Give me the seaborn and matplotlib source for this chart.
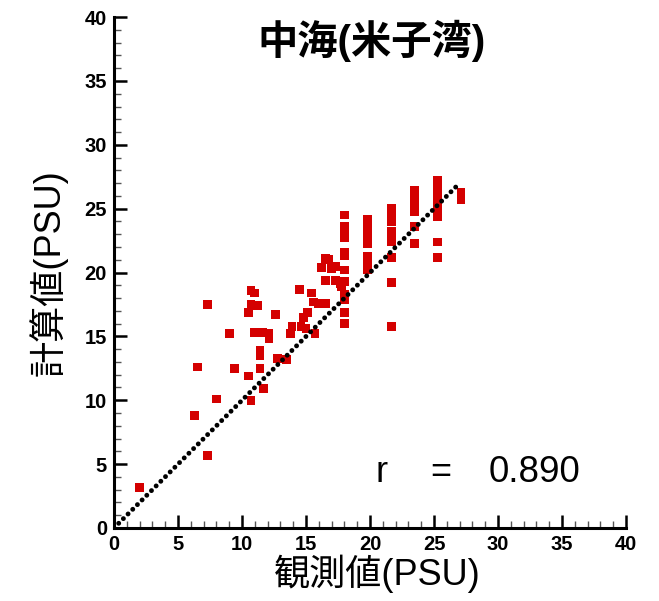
import matplotlib
import numpy as np
import pandas as pd
import seaborn as sns

matplotlib.use("Agg")
import matplotlib.pyplot as plt
from matplotlib.ticker import MultipleLocator

# ── Data (observed vs computed salinity, PSU) ─────────────────────────────────
obs_low = [2.0, 6.3, 6.5, 7.3, 7.3, 8.0, 9.0, 9.4, 10.5, 10.7, 11.7, 11.4, 11.4,
           11.4, 11.0, 11.6, 12.1, 12.1, 12.8, 12.6, 10.5, 10.7, 11.2, 10.7, 11.0,
           13.5, 13.9, 13.8, 14.6, 15.0, 15.7, 14.5, 15.4, 15.6, 16.0, 16.5, 15.1,
           14.8, 16.5, 16.8, 16.2, 17.0, 17.3, 16.5, 17.3, 17.7, 17.8]
calc_low = [3.2, 8.8, 12.6, 5.7, 17.5, 10.1, 15.2, 12.5, 11.9, 10.0, 10.9, 12.5, 13.5,
            13.9, 15.3, 15.3, 15.2, 14.8, 13.3, 16.7, 16.9, 17.5, 17.4, 18.6, 18.4,
            13.2, 15.8, 15.2, 15.8, 15.6, 15.2, 18.7, 18.4, 17.7, 17.6, 17.6, 16.9,
            16.5, 21.1, 21.0, 20.4, 20.3, 20.5, 19.4, 19.4, 19.1, 18.9]

col_x = [18.0, 19.8, 21.7, 23.5, 25.3, 27.1]
col_y = [
    [24.5, 23.6, 23.2, 22.7, 21.6, 21.3, 20.2, 19.3, 18.3, 17.9, 16.9, 16.0],
    [24.2, 23.7, 23.2, 22.8, 22.3, 21.3, 20.8, 20.2],
    [25.0, 24.5, 24.0, 23.2, 22.8, 22.4, 21.2, 19.2, 15.8],
    [26.4, 25.9, 25.3, 24.8, 23.6, 22.3],
    [27.2, 26.6, 26.0, 25.5, 24.9, 24.4, 22.4, 21.2],
    [26.3, 25.7],
]

line_end = 27.0
r_value = 0.890

title = "中海(米子湾)"
xlabel = "観測値(PSU)"
ylabel = "計算値(PSU)"

obs = obs_low + [x for x, ys in zip(col_x, col_y) for _ in ys]
calc = calc_low + [y for ys in col_y for y in ys]
df = pd.DataFrame({"obs": obs, "calc": calc})

# ── Style ─────────────────────────────────────────────────────────────────────
sns.set_style("ticks")
plt.rcParams["font.family"] = ["Liberation Sans", "Noto Sans CJK JP", "DejaVu Sans"]
plt.rcParams.update({
    "text.color": "black",
    "axes.labelcolor": "black",
    "axes.edgecolor": "black",
    "xtick.color": "black",
    "ytick.color": "black",
})

fig = plt.figure(figsize=(6.59, 6.01), dpi=100)
ax = fig.add_axes([0.173, 0.1215, 0.777, 0.850])

ax.plot([0, line_end], [0, line_end], color="black", lw=3.5,
        linestyle=(0, (0.01, 1.35)), dash_capstyle="round", zorder=3)
sns.scatterplot(data=df, x="obs", y="calc", marker="s", s=40, color="#d40000",
                edgecolor="none", linewidth=0, ax=ax, zorder=2)

ax.set_xlim(0, 40)
ax.set_ylim(0, 40)
ax.xaxis.set_major_locator(MultipleLocator(5))
ax.yaxis.set_major_locator(MultipleLocator(5))
ax.xaxis.set_minor_locator(MultipleLocator(1))
ax.yaxis.set_minor_locator(MultipleLocator(1))
ax.tick_params(which="major", direction="in", length=9.5, width=1.8,
               labelsize=14.5, pad=5)
ax.tick_params(which="minor", direction="in", length=5, width=1.0, color="#555555")
for lab in ax.get_xticklabels() + ax.get_yticklabels():
    lab.set_fontweight("bold")

sns.despine(ax=ax)
for side in ("left", "bottom"):
    ax.spines[side].set_linewidth(2.2)

ax.set_xlabel(xlabel, fontsize=26,
              bbox=dict(facecolor="white", edgecolor="none", pad=0))
ax.xaxis.set_label_coords(0.515, -0.052, transform=ax.transAxes)
ax.xaxis.label.set_va("top")
ax.set_ylabel(ylabel, fontsize=26, labelpad=12)

ax.text(0.504, 0.953, title, transform=ax.transAxes, ha="center", va="center",
        fontsize=29, fontweight="bold")

ax.text(20.9, 4.35, "r", ha="center", va="center", fontsize=26, fontweight="light")
ax.text(25.5, 4.35, "=", ha="center", va="center", fontsize=26)
ax.text(29.3, 4.35, f"{r_value:.3f}", ha="left", va="center", fontsize=26.5)

fig.savefig("out.png", dpi=100)
